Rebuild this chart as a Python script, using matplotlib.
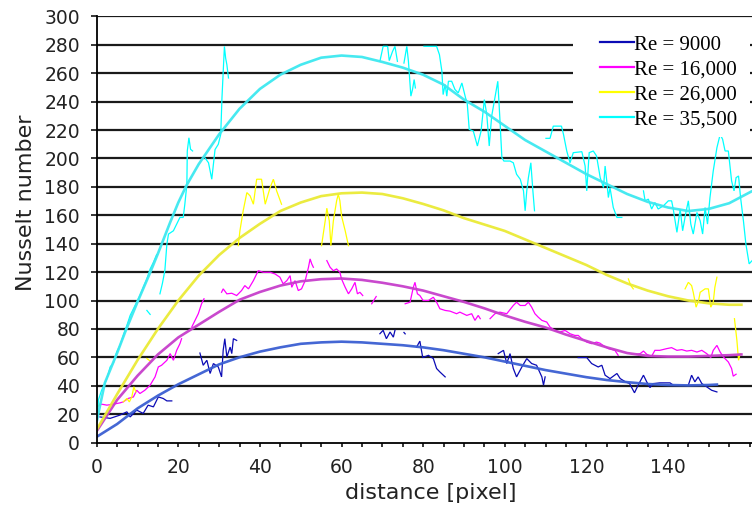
import numpy as np
import matplotlib
matplotlib.use("Agg")
import matplotlib.pyplot as plt
from matplotlib.lines import Line2D
from matplotlib.patches import Rectangle

nan = np.nan

series_labels = ["Re = 9000", "Re = 16,000", "Re = 26,000", "Re = 35,500"]

# ---- smooth trend curves ----
fit_x_blue = [0, 5, 10, 15, 20, 25, 30, 35, 40, 45, 50, 55, 60, 65, 70, 75, 80, 85, 90, 95,
              100, 105, 110, 115, 120, 125, 130, 135, 140, 145, 150, 152]
fit_y_blue = [4, 13, 24, 33, 41, 48, 55, 60, 64, 67, 69.5, 70.5, 71, 70.5, 69.5, 68.5, 67, 65, 62.5, 60,
              57, 54, 51, 48.5, 46, 44, 42.5, 41.2, 40.5, 40.2, 40.5, 40.8]

fit_x_mag = [0, 5, 10, 15, 20, 25, 30, 35, 40, 45, 50, 55, 60, 65, 70, 75, 80, 85, 90, 95,
             100, 105, 110, 115, 120, 125, 130, 135, 140, 145, 150, 155, 158]
fit_y_mag = [8, 30, 47, 62, 74, 83, 92, 100.5, 106, 110.5, 113.5, 115, 115.5, 114.5, 112.5, 110, 107, 103, 99, 94.5,
             89.5, 85, 81, 76, 71.5, 67, 63, 61, 60.5, 60.5, 61, 61.5, 62]

fit_x_yel = [0, 5, 10, 15, 20, 25, 30, 35, 40, 45, 50, 55, 60, 65, 70, 75, 80, 85, 90, 95,
             100, 105, 110, 115, 120, 125, 130, 135, 140, 145, 150, 155, 158]
fit_y_yel = [9, 34, 58, 80, 100, 117.5, 132, 144, 154, 163, 169, 173.5, 175.5, 176, 175, 172, 168, 163.5, 158, 153.5,
             149, 143, 137, 131, 125, 118, 112, 107, 103, 100, 98, 97, 97]

fit_x_cyan = [0, 2, 5, 7, 10, 13, 15, 18, 20, 22, 25, 30, 35, 40, 45, 50, 55, 60, 65, 70, 75, 80, 85, 90, 95,
              100, 105, 110, 115, 120, 125, 130, 135, 140, 145, 150, 155, 160.6]
fit_y_cyan = [15, 42, 63, 78, 99, 119, 133, 155, 169, 181, 196, 217, 235, 249, 259, 266, 271, 272.5, 271.5, 268, 264, 259, 252, 241.5, 233,
              223, 213, 205, 197, 189, 182, 175, 169.5, 165.5, 163, 164.5, 168.5, 177]

# ---- measured (noisy) data, NaN marks gaps ----
data_x_blue = [0.8, 3.3, 5.7, 7.4, 8.2, 9.8, 11.4, 12.6, 13.9, 15.1, 16.3, 17.2, 18.4, nan,
               25.3, 26.1, 27.0, 27.8, 28.6, 29.8, 30.6, 31.0, 31.4, 31.9, 32.7, 33.1, 33.5, 34.3, nan,
               69.4, 70.2, 71.0, 71.9, 72.7, 73.1, nan, 75.3, 75.6, nan,
               78.4, 79.2, 79.9, 81.3, 82.5, 83.3, 84.1, 85.4, nan,
               98.4, 99.7, 100.5, 101.3, 102.1, 102.9, 104.2, 105.4, 106.6, 107.8, 109.1, 109.5, 109.9, nan,
               118.0, 120.1, 121.3, 122.9, 123.8, 124.6, 125.8, 127.5, 128.3, 129.6, 130.6, 131.8, 132.7, 134.0,
               134.8, 135.6, 136.4, 138.0, 140.5, 141.3, nan,
               145.0, 145.8, 146.6, 147.4, 148.3, 149.5, 150.7, 152.0]
data_y_blue = [18, 17, 19.3, 21.6, 18, 22.8, 20.5, 26.3, 25.1, 32.1, 31, 29.3, 29.3, nan,
               63, 54.4, 57.9, 48.6, 55.6, 53.2, 46.2, 65, 73.1, 60.2, 67.2, 62.6, 73.1, 71.9, nan,
               76.6, 79, 73.1, 77.8, 74.2, 79, nan, 77.5, 76.5, nan,
               67.2, 71.4, 59.8, 61.4, 59.1, 52.1, 49.7, 46.2, nan,
               62.6, 64.9, 55.6, 62.6, 52.1, 46.2, 53.2, 59.1, 55.6, 54.4, 46.2, 40.4, 46.2, nan,
               59.8, 59.8, 55.6, 53.2, 54.4, 47.4, 45, 48.6, 45, 42.7, 41.5, 35, 40.4, 47.4,
               42.7, 38.7, 41.5, 42, 42, 40.4, nan,
               40.4, 47.4, 42.7, 46.2, 41.5, 39.2, 36.8, 35.6]

data_x_mag = [0, 1.2, 2.5, 4.1, 5.7, 6.5, 7.7, 9.0, 9.8, 10.6, 11.8, 13.1, 14.3, 15.1, 15.9, 17.2, 18.0, 18.8,
              19.6, 20.4, 20.8, nan,
              23.3, 24.1, 24.9, 25.7, 26.3, nan,
              30.6, 31.0, 31.9, 33.1, 34.3, 35.5, 36.3, 37.2, 38.4, 39.6, 40.8, 42.5, 43.7, 44.9, 45.7,
              46.6, 47.4, 47.8, 48.6, 49.4, 50.2, 51.1, 51.9, 52.3, 52.7, 53.1, nan,
              56.4, 57.2, 58.0, 58.8, 59.6, 60.0, 60.9, 61.7, 62.5, 63.3, 63.9, 64.5, 65.2, nan,
              67.4, 68.5, nan,
              75.6, 76.8, 77.6, 78.0, 78.6, 79.2, 80.0, 81.3, 82.5, 83.3, 84.1, 85.4, 86.6, 88.2,
              89.0, 90.7, 91.9, 92.7, 93.5, 94.0, nan,
              96.4, 97.6, 98.8, 100.5, 102.1, 102.9, 103.8, 105.0, 105.8, 106.6, 107.4, 108.2, 109.1,
              110.3, 111.1, 112.3, 113.5, 114.8, 116.0, 117.2, 118.0, 118.9, 120.1, 121.3, 122.5,
              123.3, 124.1, 125.4, 127.0, 127.8, nan,
              132.4, 133.2, 134.0, 134.8, 136.0, 136.8, 138.0, 139.7, 140.9, 142.2, 143.4, 144.6,
              145.8, 147.1, 148.3, 149.5, 150.5, 151.1, 152.0, 152.8, 153.6, 154.8, 155.6, 156.0, 156.7]
data_y_mag = [25.1, 27, 26.3, 27, 27.9, 28.6, 31, 32.1, 36.8, 34.5, 36.8, 40.4, 46.2, 53.2, 54.4, 57.9, 62.6, 57.9,
              64.9, 69.6, 73.1, nan,
              81.3, 86, 90.7, 97.7, 101.2, nan,
              105.8, 108.2, 104.7, 105.1, 103.5, 107, 110.5, 108.2, 114, 121, 119.9, 119.9, 118.7, 116.4, 111.7,
              114, 117.5, 109.3, 114, 107, 108.2, 114, 123.4, 129.3, 125.8, 123.4, nan,
              128.1, 123.4, 121, 122.2, 119.9, 115.2, 109.3, 104.7, 108.2, 112.8, 104.7, 105.8, 103.5, nan,
              97.7, 102.8, nan,
              97.7, 98.8, 109.3, 112.8, 104.7, 103.5, 100, 100, 102.3, 98.8, 94.2, 93, 92.5, 90.7,
              91.8, 89.5, 90.7, 86, 89.5, 87.2, nan,
              87.2, 90.7, 91.8, 90.7, 96.5, 98.8, 96.5, 96.5, 98.8, 95.3, 90.7, 88.3, 86,
              84.8, 81.3, 78.9, 77.8, 78.9, 76.6, 75.4, 75.4, 73.1, 70.7, 69.6, 70.7,
              70, 68.4, 66.1, 64.9, 61.4, nan,
              62.1, 62.6, 64.4, 62.1, 60.7, 64.9, 64.9, 66.1, 66.8, 64.9, 65.4, 64.4,
              64.9, 63.7, 64.9, 62.6, 59.8, 64.9, 68.4, 63.7, 60.2, 56.7, 52.1, 46.7, 48.1]

data_x_yel = [0.1, 0.8, nan,
              6.5, 7.4, 8.0, 8.6, 9.1, 9.6, nan,
              12.3, 13.1, nan,
              34.7, 35.1, 35.9, 36.8, 37.6, 38.4, 39.2, 40.4, 41.3, 42.5, 43.3, 44.1, 45.3, nan,
              55.1, 56.0, 56.4, 57.0, 57.4, 58.0, 58.8, 59.2, 59.6, 60.0, 60.9, 61.7, nan,
              130.3, 130.9, 131.5, nan,
              144.2, 145.0, 145.8, 146.2, 146.9, 147.5, 147.9, 149.1, 149.9, 150.5, 151.1, 151.5, 152.0, nan,
              156.3, 156.9, 157.3, 157.7]
data_y_yel = [25.1, 27, nan,
              28.6, 31, 28.6, 32.1, 39.2, 35.6, nan,
              59.1, 57.4, nan,
              138.6, 149.1, 163.2, 176, 173.7, 167.8, 185.4, 185.4, 167.8, 179.5, 185.4, 177.2, 167.8, nan,
              138.6, 156.1, 165, 156.1, 138.6, 156.1, 170.2, 174.9, 170.2, 159.6, 149.1, 138.6, nan,
              115.2, 110.5, 108.2, nan,
              108.2, 112.8, 110.5, 105.8, 95.3, 100, 105.8, 108.2, 108.2, 95.3, 98.8, 109.3, 116.4, nan,
              87.2, 71.9, 57.9, 62.6]

data_x_cyan = [0.2, 0.4, 1.2, 1.6, 2.5, 3.3, 4.1, 4.9, 5.7, 6.5, 7.4, 8.2, 9.0, 9.8, 10.6, 11.4, 12.3,
               13.1, 13.9, 14.7, nan,
               12.3, 13.1, nan,
               15.5, 16.1, 16.7, 17.2, 17.6, 18.8, 19.6, 20.4, 21.2, 21.6, 22.1, 22.2, 22.6, 23.0, 23.5, nan,
               26.5, 27.4, 28.2, 29.0, 29.8, 30.4, 30.7, 31.3, 31.6, 31.9, 32.3, nan,
               69.4, 70.2, 71.3, 71.7, 72.5, 73.1, 73.7, nan,
               75.3, 76.0, 76.4, 77.0, 77.4, 77.8, 78.1, nan,
               80.2, 83.3, 84.0, 84.6, 84.9, 85.4, 85.8, 86.2, 87.0, 87.8, 88.6, 89.5, 90.0, 90.4, 90.8,
               91.3, 92.3, 93.3, 94.2, 95.0, 95.6, 96.2, 96.8, 97.6, 98.3, 98.8, 99.3, 99.8, 101.3, 102.1,
               102.9, 103.8, 104.6, 105.0, 105.4, 105.8, 106.4, 106.9, 107.3, nan,
               110.1, 111.1, 111.9, 113.9, 114.4, 115.2, 116.0, 116.8, 118.9, 119.7, 120.1, 120.7, 121.7,
               122.5, 123.4, 124.2, 124.6, 125.0, 125.4, 125.8, 126.6, 127.5, 128.7, nan,
               134.0, 134.4, 135.2, 136.0, 136.8, 137.6, 138.9, 140.1, 140.9, 141.3, 142.2, 143.0, 143.6,
               144.4, 145.0, 145.6, 146.2, 147.1, 147.9, 148.5, 149.1, 149.7, 150.3, 151.1, 152.0, 152.8,
               153.4, 154.0, 154.8, 155.6, 156.2, 156.7, 157.3, 157.8, 158.5, 159.1, 159.9, 160.6]
data_y_cyan = [15.8, 29.8, 36.8, 39.2, 45, 53.2, 56, 63.7, 68.4, 75.4, 82.5, 89.5, 94.2, 98.8, 103.5, 109.3, 115.2,
               122.2, 126.9, 132.3, nan,
               93, 90.2, nan,
               104.7, 112, 121, 139.8, 146.8, 149.1, 153.8, 158.5, 158.5, 167.8, 181.9, 205.3, 214.6, 206.5, 205.3, nan,
               200.6, 197, 185.4, 206.3, 210, 217, 242.7, 278.9, 270.7, 266.1, 256.7, nan,
               268.4, 279, 279, 268.9, 275.4, 279, 268.4, nan,
               267.2, 279, 268.4, 243.9, 248.6, 255.6, 249.7, nan,
               279, 279, 273.1, 261.4, 245, 252.1, 243.9, 254.4, 254.4, 248.6, 246.2, 253.2, 247.4, 242.7, 239.2,
               220.5, 219.3, 208.8, 219.3, 241.5, 231, 208.8, 229.8, 242.7, 254.4, 228.6, 200.6, 198.2, 198.2, 197,
               188.9, 185.4, 177.2, 163.2, 177.2, 186.5, 197, 177.2, 163.2, nan,
               214.2, 214.2, 222.8, 222.8, 217, 205.3, 197, 204.1, 204.8, 194.7, 177.2, 204.1, 205.3,
               201.8, 186.5, 179.5, 194.7, 184.2, 172.5, 179.5, 165.5, 158.5, 158.5, nan,
               177.2, 170.2, 171.4, 164.4, 169, 164.4, 166.7, 170.2, 170.2, 164.4, 148, 164.4, 149.1,
               162, 170.2, 153.8, 146.8, 162, 156.1, 146.8, 165.5, 153.8, 172.5, 191.2, 207.6, 217,
               213.5, 205.3, 205.3, 184.2, 177.2, 186.5, 187.7, 172.5, 156.1, 139.8, 125.8, 128]

x_ticks_labeled = [0, 20, 40, 60, 80, 100, 120, 140]
y_ticks = [0, 20, 40, 60, 80, 100, 120, 140, 160, 180, 200, 220, 240, 260, 280, 300]

data_colors = ["#0B0BB5", "#FF00FF", "#FFFF00", "#00FFFF"]
fit_colors = ["#3B5FD2", "#C63FCB", "#EAEA35", "#3DE8F0"]

W, H = 752, 511
fig = plt.figure(figsize=(W / 100, H / 100), dpi=100)
ax_left = 96.7 / W
ax_bottom = (H - 442.5) / H
ax_top = (H - 16.5) / H
ax_h_px = 442.5 - 16.5
ax_w_px = W - 96.7
ax = fig.add_axes([ax_left, ax_bottom, 1.0 - ax_left, ax_top - ax_bottom])

ax.set_xlim(0, 160.6)
ax.set_ylim(0, 300)

# gridlines
for yv in y_ticks[1:]:
    ax.axhline(yv, color="#1a1a1a", lw=1.6, zorder=1)

# white box behind legend
fig.patches.append(Rectangle((573 / W, 1 - 137 / H), (750 - 573) / W, (137 - 31) / H,
                             transform=fig.transFigure, facecolor="white", edgecolor="none", zorder=2))

datas = [(data_x_blue, data_y_blue), (data_x_mag, data_y_mag),
         (data_x_yel, data_y_yel), (data_x_cyan, data_y_cyan)]
fits = [(fit_x_blue, fit_y_blue), (fit_x_mag, fit_y_mag),
        (fit_x_yel, fit_y_yel), (fit_x_cyan, fit_y_cyan)]

for (dx, dy), c in zip(datas, data_colors):
    ax.plot(dx, dy, color=c, lw=0.9, zorder=3, solid_joinstyle="miter")
for (fx, fy), c in zip(fits, fit_colors):
    ax.plot(fx, fy, color=c, lw=1.9, zorder=4, alpha=0.95)

for s in ["top", "right"]:
    ax.spines[s].set_visible(False)
for s in ["left", "bottom"]:
    ax.spines[s].set_color("black")
    ax.spines[s].set_linewidth(1.3)
    ax.spines[s].set_zorder(5)

xt = np.arange(0, 161, 5)
ax.set_yticks(y_ticks)
ax.set_xticks(xt)
ax.set_xticklabels([str(int(v)) if v in x_ticks_labeled else "" for v in xt])
ax.tick_params(axis="both", direction="out", width=1.1, color="black",
               labelsize=13.5, labelcolor="#222222")
ax.tick_params(axis="y", length=4.5, pad=7.5)
ax.tick_params(axis="x", length=3, pad=8.0)

ax.set_xlabel("distance [pixel]", fontsize=16, color="#222222", va="top")
ax.xaxis.set_label_coords((431 - 96.7) / ax_w_px, -(483 - 442.5) / ax_h_px)
ax.set_ylabel("Nusselt number", fontsize=16, color="#222222")
ax.yaxis.set_label_coords(-(96.7 - 36) / ax_w_px, (442.5 - 202.5) / ax_h_px)

handles = [Line2D([0], [0], color=c, lw=1.6) for c in data_colors]
leg = fig.legend(handles, series_labels, loc="upper right",
                 bbox_to_anchor=(737 / W, 1 - 35 / H), bbox_transform=fig.transFigure,
                 frameon=False, prop={"family": "Liberation Serif", "size": 15},
                 handlelength=1.63, handletextpad=0.0, labelspacing=0.26, borderpad=0.0,
                 borderaxespad=0)
leg.set_zorder(6)

fig.savefig("out.png", dpi=100)
